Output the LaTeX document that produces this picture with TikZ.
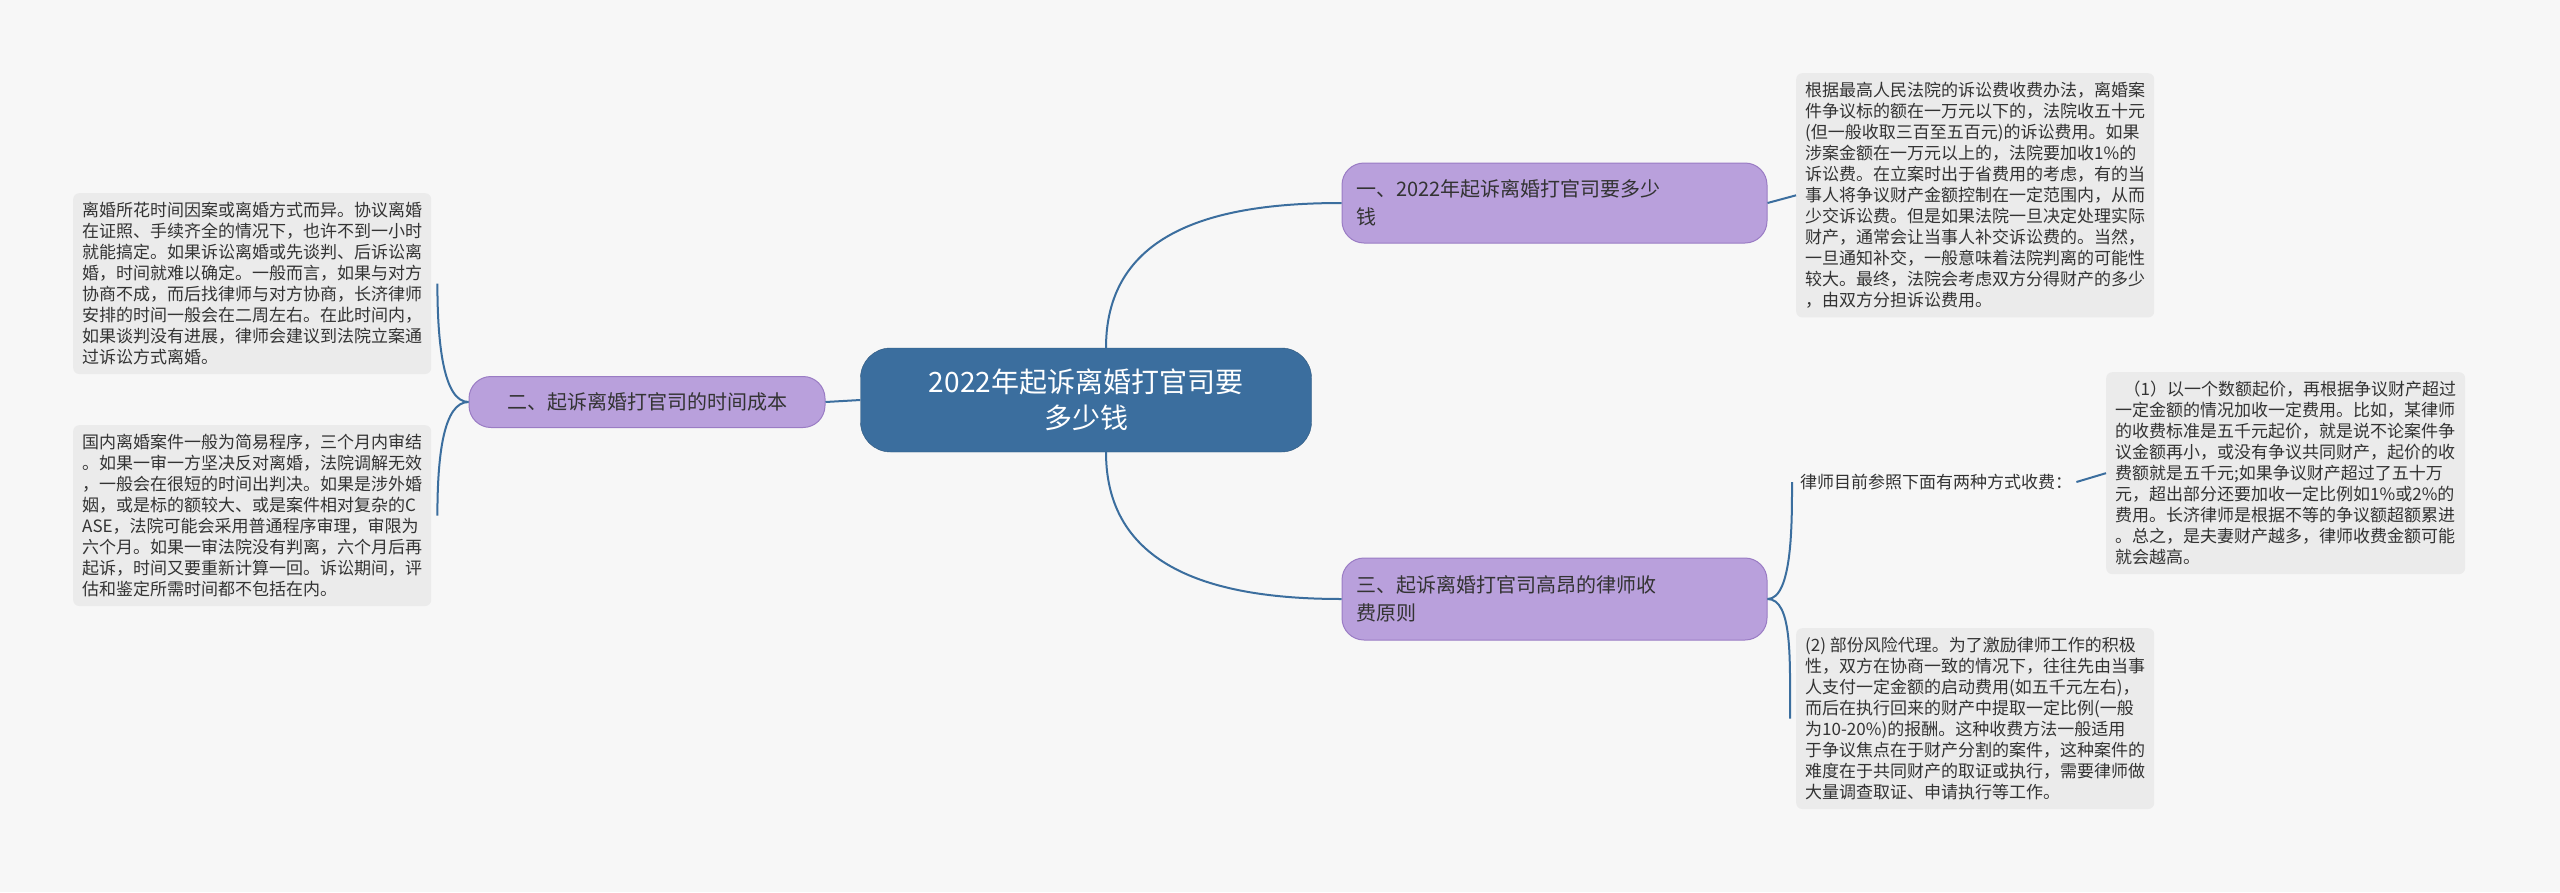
\documentclass[tikz,border=0pt]{standalone}
\usepackage{fontspec}
\setmainfont{Noto Sans CJK SC}
\definecolor{bg}{HTML}{F7F7F7}
\definecolor{rootc}{HTML}{3B6E9E}
\definecolor{linec}{HTML}{3B6E9E}
\definecolor{brfill}{HTML}{B9A0DC}
\definecolor{brdraw}{HTML}{9A7CC4}
\definecolor{leaff}{HTML}{EBEBEB}
\definecolor{txt}{HTML}{333333}
\tikzset{
 rootbox/.style={fill=rootc,draw=rootc!80!black,rounded corners=30pt,text=white,align=center,font=\fontsize{28}{36}\selectfont,minimum width=451pt,minimum height=104pt},
 brbox/.style={fill=brfill,draw=brdraw,line width=1pt,rounded corners=22pt,text=txt,align=left,font=\fontsize{20}{28}\selectfont,inner xsep=14pt},
 leafbox/.style={fill=leaff,rounded corners=6pt,text=txt,align=left,font=\fontsize{17}{21}\selectfont,inner sep=9pt,anchor=north west},
 conn/.style={draw=linec,line width=2pt},
}
\begin{document}
\begin{tikzpicture}[x=1pt,y=-1pt]
\fill[bg] (0,0) rectangle (2560,892);
\useasboundingbox (0,0) rectangle (2560,892);
\node[rootbox] (root) at (1086,400) {2022年起诉离婚打官司要\\多少钱};
\node[brbox,minimum width=425pt,minimum height=80pt,text width=397pt] (b1) at (1554.5,203) {一、2022年起诉离婚打官司要多少\\钱};
\node[brbox,minimum width=356pt,minimum height=51pt] (b2) at (647,402) {二、起诉离婚打官司的时间成本};
\node[brbox,minimum width=425pt,minimum height=82pt,text width=397pt] (b3) at (1554.5,599) {三、起诉离婚打官司高昂的律师收\\费原则};

\node[leafbox] (l1) at (1796,73) {根据最高人民法院的诉讼费收费办法，离婚案\\件争议标的额在一万元以下的，法院收五十元\\(但一般收取三百至五百元)的诉讼费用。如果\\涉案金额在一万元以上的，法院要加收1\%的\\诉讼费。在立案时出于省费用的考虑，有的当\\事人将争议财产金额控制在一定范围内，从而\\少交诉讼费。但是如果法院一旦决定处理实际\\财产，通常会让当事人补交诉讼费的。当然，\\一旦通知补交，一般意味着法院判离的可能性\\较大。最终，法院会考虑双方分得财产的多少\\，由双方分担诉讼费用。};
\node[leafbox] (l2) at (73,193) {离婚所花时间因案或离婚方式而异。协议离婚\\在证照、手续齐全的情况下，也许不到一小时\\就能搞定。如果诉讼离婚或先谈判、后诉讼离\\婚，时间就难以确定。一般而言，如果与对方\\协商不成，而后找律师与对方协商，长济律师\\安排的时间一般会在二周左右。在此时间内，\\如果谈判没有进展，律师会建议到法院立案通\\过诉讼方式离婚。};
\node[leafbox] (l3) at (73,425) {国内离婚案件一般为简易程序，三个月内审结\\。如果一审一方坚决反对离婚，法院调解无效\\，一般会在很短的时间出判决。如果是涉外婚\\姻，或是标的额较大、或是案件相对复杂的C\\ASE，法院可能会采用普通程序审理，审限为\\六个月。如果一审法院没有判离，六个月后再\\起诉，时间又要重新计算一回。诉讼期间，评\\估和鉴定所需时间都不包括在内。};
\node[anchor=west,text=txt,font=\fontsize{17}{21}\selectfont,inner sep=4pt] (m) at (1796,482) {律师目前参照下面有两种方式收费：};
\node[leafbox] (l4) at (2106,372) {\hspace*{0.5em}（1）以一个数额起价，再根据争议财产超过\\一定金额的情况加收一定费用。比如，某律师\\的收费标准是五千元起价，就是说不论案件争\\议金额再小，或没有争议共同财产，起价的收\\费额就是五千元;如果争议财产超过了五十万\\元，超出部分还要加收一定比例如1\%或2\%的\\费用。长济律师是根据不等的争议额超额累进\\。总之，是夫妻财产越多，律师收费金额可能\\就会越高。};
\node[leafbox] (l5) at (1796,628) {(2) 部份风险代理。为了激励律师工作的积极\\性，双方在协商一致的情况下，往往先由当事\\人支付一定金额的启动费用(如五千元左右)，\\而后在执行回来的财产中提取一定比例(一般\\为10-20\%)的报酬。这种收费方法一般适用\\于争议焦点在于财产分割的案件，这种案件的\\难度在于共同财产的取证或执行，需要律师做\\大量调查取证、申请执行等工作。};

\draw[conn] (root.north) ++(20,0) .. controls +(0,-120) and +(-120,0) .. (b1.west);
\draw[conn] (root.south) ++(20,0) .. controls +(0,120) and +(-120,0) .. (b3.west);
\draw[conn] (root.west) -- (b2.east);
\draw[conn] (b1.east) -- (l1.west);
\draw[conn] (b2.west) .. controls +(-25,0) and +(0,60) .. ([xshift=6pt]l2.east) ;
\draw[conn] (b2.west) .. controls +(-25,0) and +(0,-60) .. ([xshift=6pt]l3.east) ;
\draw[conn] (b3.east) .. controls +(25,0) and +(0,40) .. ([xshift=-4pt]m.west);
\draw[conn] (b3.east) .. controls +(25,0) and +(0,-60) .. ([xshift=-6pt]l5.west);
\draw[conn] (m.east) -- (l4.west);
\end{tikzpicture}
\end{document}
